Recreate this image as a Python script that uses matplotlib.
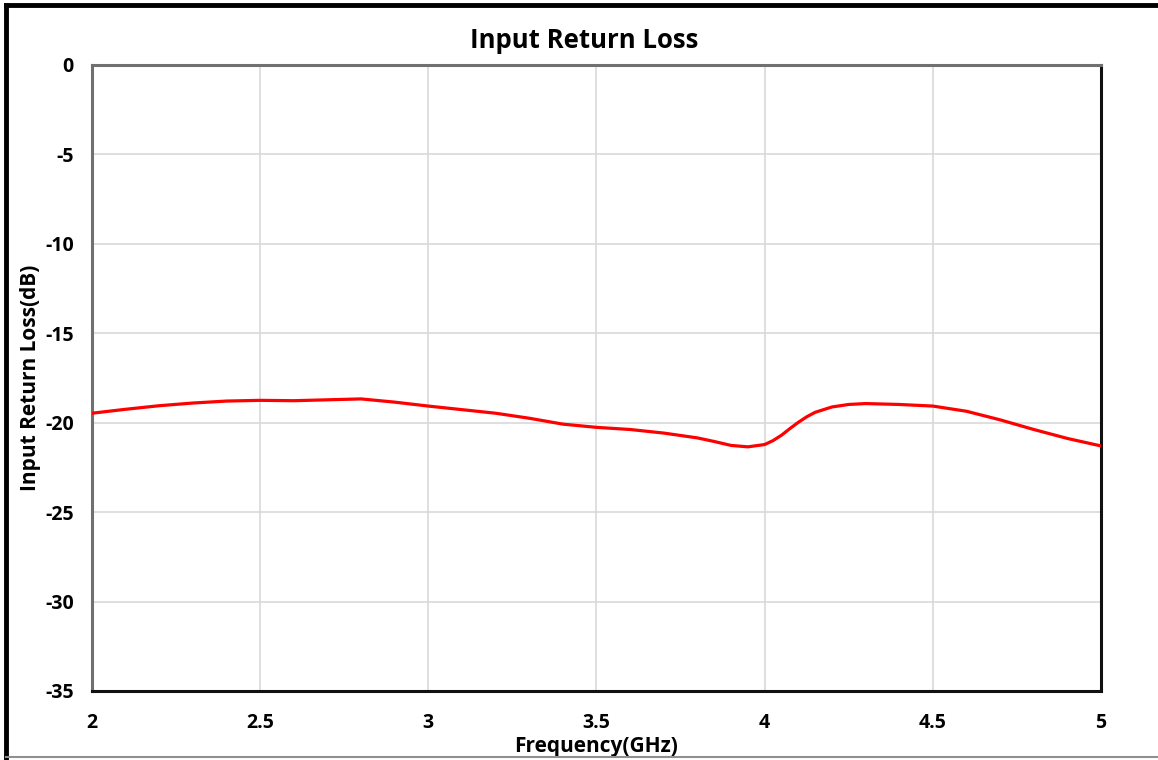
import matplotlib.pyplot as plt
from matplotlib.lines import Line2D

plt.rcParams["font.family"] = ["Open Sans", "DejaVu Sans"]
plt.rcParams["font.weight"] = "bold"
plt.rcParams["axes.unicode_minus"] = False

# Measured input return loss vs frequency
freq_ghz = [2.0, 2.1, 2.2, 2.3, 2.4, 2.5, 2.6, 2.7, 2.8, 2.9, 3.0, 3.1, 3.2,
            3.3, 3.4, 3.5, 3.6, 3.7, 3.8, 3.85, 3.9, 3.95, 4.0, 4.025, 4.05,
            4.075, 4.1, 4.125, 4.15, 4.2, 4.25, 4.3, 4.4, 4.5, 4.6, 4.7, 4.8,
            4.9, 5.0]
s11_db = [-19.47, -19.25, -19.05, -18.9, -18.79, -18.75, -18.77, -18.72,
          -18.67, -18.85, -19.07, -19.27, -19.47, -19.75, -20.08, -20.26,
          -20.38, -20.58, -20.85, -21.05, -21.27, -21.35, -21.22, -21.0,
          -20.7, -20.33, -19.98, -19.67, -19.42, -19.12, -18.98, -18.93,
          -18.98, -19.07, -19.36, -19.84, -20.38, -20.88, -21.3]

x_ticks = [2, 2.5, 3, 3.5, 4, 4.5, 5]
x_tick_labels = ["2", "2.5", "3", "3.5", "4", "4.5", "5"]
y_ticks = [0, -5, -10, -15, -20, -25, -30, -35]

fig = plt.figure(figsize=(11.58, 7.6), dpi=100)
ax = fig.add_axes([0.0794, 0.0908, 0.8714, 0.8237])

ax.plot(freq_ghz, s11_db, color="#ff0000", linewidth=2.3, zorder=3,
        solid_joinstyle="round")

ax.set_xlim(2, 5)
ax.set_ylim(-35, 0)
ax.set_xticks(x_ticks)
ax.set_xticklabels(x_tick_labels)
ax.set_yticks(y_ticks)
ax.tick_params(length=0, labelsize=14)
ax.tick_params(axis="x", pad=16)
ax.tick_params(axis="y", pad=13)
ax.grid(True, color="#d9d9d9", linewidth=1.2)
ax.set_axisbelow(True)

for side in ["left", "top"]:
    ax.spines[side].set_color("#707070")
    ax.spines[side].set_linewidth(2.2)
for side in ["right", "bottom"]:
    ax.spines[side].set_color("#111111")
    ax.spines[side].set_linewidth(2.2)

ax.set_title("Input Return Loss", fontsize=18.5, fontweight="bold", pad=12, x=0.4876)
ax.set_xlabel("Frequency(GHz)", fontsize=15, fontweight="bold", labelpad=2)
ax.set_ylabel("Input Return Loss(dB)", fontsize=15, fontweight="bold", labelpad=3)

# outer frame
fig.add_artist(Line2D([0.0055, 0.0055], [0.0, 0.993], color="black", linewidth=3.5,
                      transform=fig.transFigure))
fig.add_artist(Line2D([0.0055, 1.0], [0.993, 0.993], color="black", linewidth=3.5,
                      transform=fig.transFigure))
fig.add_artist(Line2D([0.0055, 1.0], [0.004, 0.004], color="#909090", linewidth=1.5,
                      transform=fig.transFigure))

fig.savefig("out.png", dpi=100)
